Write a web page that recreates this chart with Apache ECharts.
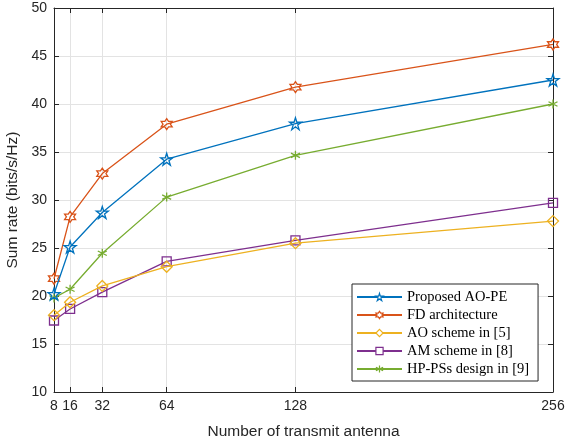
<!DOCTYPE html>
<html>
<head>
<meta charset="utf-8">
<script src="https://cdn.jsdelivr.net/npm/echarts@6/dist/echarts.min.js"></script>
<style>
  html, body { margin: 0; padding: 0; background: #fff; }
  #chart { width: 566px; height: 445px; }
</style>
</head>
<body>
<div id="chart"></div>
<script>
const antennas = [8, 16, 32, 64, 128, 256];
const proposed = [20.2, 25.1, 28.7, 34.25, 37.95, 42.5];
const fdArch   = [21.8, 28.25, 32.75, 37.9, 41.75, 46.2];
const aoScheme = [18.0, 19.35, 21.05, 23.05, 25.5, 27.8];
const amScheme = [17.45, 18.65, 20.4, 23.6, 25.8, 29.7];
const hpDesign = [19.8, 20.7, 24.45, 30.3, 34.65, 40.0];

const names = ['Proposed AO-PE', 'FD architecture', 'AO scheme in [5]', 'AM scheme in [8]', 'HP-PSs design in [9]'];
const colors = ['#0072BD', '#D95319', '#EDB120', '#7E2F8E', '#77AC30'];

// marker outlines (matlab style, not filled)
const pentagram = 'path://M0,-1 L0.2245,-0.309 L0.951,-0.309 L0.363,0.118 L0.588,0.809 L0,0.382 L-0.588,0.809 L-0.363,0.118 L-0.951,-0.309 L-0.2245,-0.309 Z';
const hexagram = 'path://M0,-1 L0.289,-0.5 L0.866,-0.5 L0.577,0 L0.866,0.5 L0.289,0.5 L0,1 L-0.289,0.5 L-0.866,0.5 L-0.577,0 L-0.866,-0.5 L-0.289,-0.5 Z';
const asterisk = 'path://M0,-1 L0,1 M-0.87,-0.5 L0.87,0.5 M-0.87,0.5 L0.87,-0.5 M-0.6,-0.6 L-0.6,-0.6';
const symbols = [pentagram, hexagram, 'diamond', 'rect', asterisk];
const sizes = [12, 11, 11, 9, 9];
const allData = [proposed, fdArch, aoScheme, amScheme, hpDesign];

const textColor = '#262626';
const tickFont = { color: textColor, fontFamily: 'Liberation Sans', fontSize: 14 };
const nameFont = { color: textColor, fontFamily: 'Liberation Sans', fontSize: 15.5 };

const series = allData.map((vals, i) => ({
  name: names[i],
  type: 'line',
  data: antennas.map((x, j) => [x, vals[j]]),
  color: colors[i],
  symbol: symbols[i],
  symbolSize: sizes[i],
  lineStyle: { width: 1.3, color: colors[i] },
  itemStyle: { color: 'rgba(255,255,255,0)', borderColor: colors[i], borderWidth: 1.3 },
  z: 10 - i
}));

const option = {
  animation: false,
  grid: { left: 54, right: 13, top: 8, bottom: 53, outerBoundsMode: 'none', containLabel: false },
  legend: {
    orient: 'vertical',
    left: 352,
    top: 284,
    width: 188,
    itemWidth: 45,
    itemHeight: 9,
    itemGap: 2,
    padding: [5, 9, 4, 4],
    borderColor: '#262626',
    borderWidth: 1,
    backgroundColor: '#fff',
    textStyle: { color: '#000', fontFamily: 'Liberation Serif', fontSize: 14.5, lineHeight: 16 },
    data: names.map((n, i) => ({
      name: n,
      itemStyle: { color: '#fff', borderColor: colors[i], borderWidth: 1.2 }
    }))
  },
  xAxis: [
    {
      type: 'value',
      min: 8,
      max: 256,
      name: 'Number of transmit antenna',
      nameLocation: 'middle',
      nameGap: 32,
      nameTextStyle: nameFont,
      axisLine: { lineStyle: { color: textColor, width: 1 } },
      axisTick: { inside: true, length: 5, lineStyle: { color: textColor }, customValues: antennas },
      axisLabel: { ...tickFont, margin: 7, customValues: antennas },
      splitLine: { show: true, lineStyle: { color: '#e3e3e3', width: 1 } }
    },
    {
      type: 'value',
      position: 'top',
      min: 8,
      max: 256,
      axisLine: { show: true, lineStyle: { color: textColor, width: 1 } },
      axisTick: { inside: true, length: 5, lineStyle: { color: textColor }, customValues: antennas },
      axisLabel: { show: false },
      splitLine: { show: false }
    }
  ],
  yAxis: [
    {
      type: 'value',
      min: 10,
      max: 50,
      interval: 5,
      name: 'Sum rate (bits/s/Hz)',
      nameLocation: 'middle',
      nameGap: 29,
      nameTextStyle: nameFont,
      axisLine: { show: true, lineStyle: { color: textColor, width: 1 } },
      axisTick: { inside: true, length: 5, lineStyle: { color: textColor } },
      axisLabel: { ...tickFont, margin: 7 },
      splitLine: { show: true, lineStyle: { color: '#e3e3e3', width: 1 } }
    },
    {
      type: 'value',
      position: 'right',
      min: 10,
      max: 50,
      interval: 5,
      axisLine: { show: true, lineStyle: { color: textColor, width: 1 } },
      axisTick: { inside: true, length: 5, lineStyle: { color: textColor } },
      axisLabel: { show: false },
      splitLine: { show: false }
    }
  ],
  series: series
};

const chart = echarts.init(document.getElementById('chart'));
chart.setOption(option);
</script>
</body>
</html>
